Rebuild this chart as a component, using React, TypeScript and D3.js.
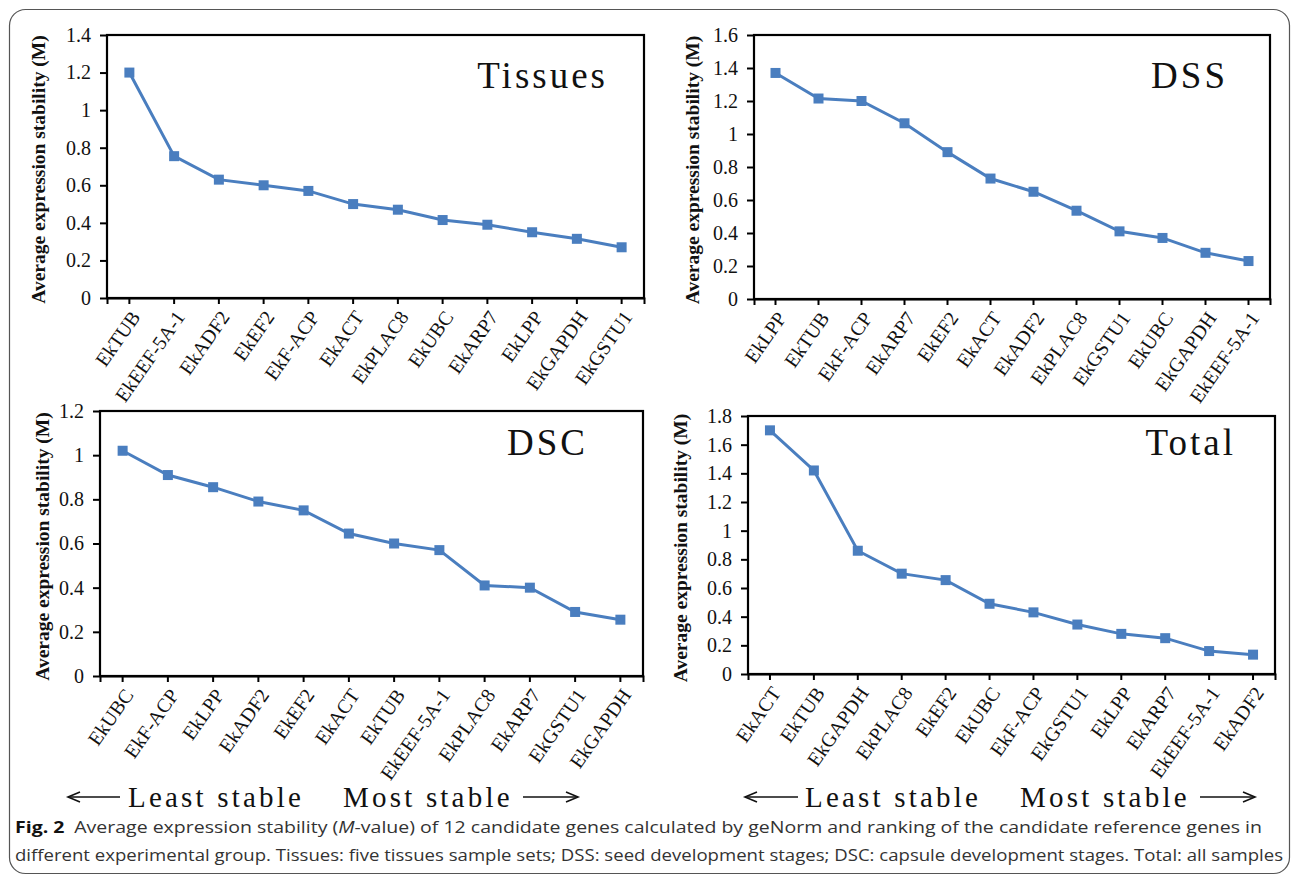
import { useEffect, useRef } from 'react';
import * as d3 from 'd3';

// gene order and geNorm M values, one pair per panel
const tissuesGenes = ['EkTUB', 'EkEEF-5A-1', 'EkADF2', 'EkEF2', 'EkF-ACP', 'EkACT', 'EkPLAC8', 'EkUBC', 'EkARP7', 'EkLPP', 'EkGAPDH', 'EkGSTU1'];
const tissuesM = [1.2, 0.755, 0.63, 0.6, 0.57, 0.5, 0.47, 0.415, 0.39, 0.35, 0.315, 0.27];

const dssGenes = ['EkLPP', 'EkTUB', 'EkF-ACP', 'EkARP7', 'EkEF2', 'EkACT', 'EkADF2', 'EkPLAC8', 'EkGSTU1', 'EkUBC', 'EkGAPDH', 'EkEEF-5A-1'];
const dssM = [1.37, 1.215, 1.2, 1.065, 0.89, 0.73, 0.65, 0.535, 0.41, 0.37, 0.28, 0.23];

const dscGenes = ['EkUBC', 'EkF-ACP', 'EkLPP', 'EkADF2', 'EkEF2', 'EkACT', 'EkTUB', 'EkEEF-5A-1', 'EkPLAC8', 'EkARP7', 'EkGSTU1', 'EkGAPDH'];
const dscM = [1.02, 0.91, 0.855, 0.79, 0.75, 0.645, 0.6, 0.57, 0.41, 0.4, 0.29, 0.255];

const totalGenes = ['EkACT', 'EkTUB', 'EkGAPDH', 'EkPLAC8', 'EkEF2', 'EkUBC', 'EkF-ACP', 'EkGSTU1', 'EkLPP', 'EkARP7', 'EkEEF-5A-1', 'EkADF2'];
const totalM = [1.7, 1.42, 0.86, 0.7, 0.655, 0.49, 0.43, 0.345, 0.28, 0.25, 0.16, 0.135];

const yMaxes = [1.4, 1.6, 1.2, 1.8];
const panelTitles = ['Tissues', 'DSS', 'DSC', 'Total'];

const W = 1295, H = 877;
const BLUE = '#4A7EBF';
const SERIF = '"Liberation Serif", "Times New Roman", serif';
const SANS = '"Open Sans", "Noto Sans", sans-serif';

// plot-area boxes and label anchors
const layout = [
  { left: 107, right: 644, top: 35, bottom: 298, titleX: 608, titleY: 88, yTitleX: 38 },
  { left: 754, right: 1270, top: 35, bottom: 299, titleX: 1228, titleY: 88, yTitleX: 692 },
  { left: 100, right: 643, top: 411, bottom: 676, titleX: 588, titleY: 455, yTitleX: 42 },
  { left: 748, right: 1275, top: 416, bottom: 674, titleX: 1236, titleY: 455, yTitleX: 680 },
];

export default function App() {
  const svgRef = useRef<SVGSVGElement>(null);

  useEffect(() => {
    const svg = d3.select(svgRef.current);
    svg.selectAll('*').remove();

    svg.append('rect')
      .attr('x', 9.5).attr('y', 9.5).attr('width', 1280).attr('height', 864)
      .attr('rx', 16).attr('fill', '#fff').attr('stroke', '#555').attr('stroke-width', 1.2);

    const series = [
      { genes: tissuesGenes, values: tissuesM },
      { genes: dssGenes, values: dssM },
      { genes: dscGenes, values: dscM },
      { genes: totalGenes, values: totalM },
    ];

    series.forEach((s, i) => {
      const L = layout[i];
      const g = svg.append('g');
      const x = d3.scaleBand().domain(s.genes).range([L.left, L.right]).padding(0);
      const y = d3.scaleLinear().domain([0, yMaxes[i]]).range([L.bottom, L.top]);
      const yTicks = y.ticks(Math.round(yMaxes[i] / 0.2));

      // y axis
      const ya = g.append('g').attr('transform', `translate(${L.left},0)`)
        .call(d3.axisLeft(y).tickValues(yTicks).tickSize(7).tickSizeOuter(0).tickPadding(9).tickFormat(d3.format('~g')));
      ya.select('.domain').remove();
      ya.selectAll('line').attr('stroke', '#000').attr('stroke-width', 2);
      ya.selectAll('text').attr('font-family', SERIF).attr('font-size', 20).attr('fill', '#111');

      // x axis
      const xa = g.append('g').attr('transform', `translate(0,${L.bottom})`)
        .call(d3.axisBottom(x).tickSize(6).tickSizeOuter(6));
      xa.select('.domain').attr('stroke', '#000').attr('stroke-width', 2);
      xa.selectAll('line').attr('stroke', '#000').attr('stroke-width', 2);
      xa.selectAll('text')
        .attr('x', 0).attr('y', 0).attr('dy', '0.35em')
        .attr('transform', 'translate(6,15) rotate(-55)')
        .attr('text-anchor', 'end')
        .attr('font-family', SERIF).attr('font-size', 20).attr('fill', '#111');

      // plot frame
      g.append('rect')
        .attr('x', L.left).attr('y', L.top)
        .attr('width', L.right - L.left).attr('height', L.bottom - L.top)
        .attr('fill', 'none').attr('stroke', '#000').attr('stroke-width', 2.2);

      const cx = (d: string) => (x(d) ?? 0) + x.bandwidth() / 2;
      const line = d3.line<number>().x((_, j) => cx(s.genes[j])).y(v => y(v));
      g.append('path').datum(s.values)
        .attr('d', line).attr('fill', 'none').attr('stroke', BLUE).attr('stroke-width', 3);

      g.selectAll('.mk').data(s.values).join('rect').attr('class', 'mk')
        .attr('x', (_, j) => cx(s.genes[j]) - 5).attr('y', v => y(v) - 5)
        .attr('width', 10).attr('height', 10).attr('fill', BLUE);

      // panel title
      g.append('text')
        .attr('x', L.titleX).attr('y', L.titleY).attr('text-anchor', 'end')
        .attr('font-family', SERIF).attr('font-size', 37).attr('letter-spacing', 3)
        .attr('fill', '#111').text(panelTitles[i]);

      // y title
      g.append('text')
        .attr('transform', `translate(${L.yTitleX},${(L.top + L.bottom) / 2 + 3}) rotate(-90)`)
        .attr('text-anchor', 'middle').attr('dy', '0.35em')
        .attr('font-family', SERIF).attr('font-size', 19.5).attr('font-weight', 700)
        .attr('fill', '#111').text('Average expression stability (M)');
    });

    // stability arrows
    const arrowRows = [
      { la: [68, 120], least: 128, most: 343, ra: [523, 578] },
      { la: [745, 798], least: 805, most: 1020, ra: [1200, 1255] },
    ];
    const ay = 797;
    arrowRows.forEach(r => {
      const a = svg.append('g').attr('stroke', '#111').attr('stroke-width', 1.6).attr('fill', 'none');
      a.append('line').attr('x1', r.la[0]).attr('x2', r.la[1]).attr('y1', ay).attr('y2', ay);
      a.append('path').attr('d', `M${r.la[0] + 12},${ay - 5}L${r.la[0]},${ay}L${r.la[0] + 12},${ay + 5}`);
      a.append('line').attr('x1', r.ra[0]).attr('x2', r.ra[1]).attr('y1', ay).attr('y2', ay);
      a.append('path').attr('d', `M${r.ra[1] - 12},${ay - 5}L${r.ra[1]},${ay}L${r.ra[1] - 12},${ay + 5}`);
      [['Least stable', r.least], ['Most stable', r.most]].forEach(([t, px]) => {
        svg.append('text').attr('x', px as number).attr('y', 807)
          .attr('font-family', SERIF).attr('font-size', 29).attr('letter-spacing', 3.2)
          .attr('fill', '#111').text(t as string);
      });
    });

    // caption
    const c1 = svg.append('text').attr('x', 15).attr('y', 833)
      .attr('font-family', SANS).attr('font-size', 16.5).attr('fill', '#333')
      .attr('textLength', 1247).attr('lengthAdjust', 'spacingAndGlyphs');
    c1.append('tspan').attr('font-weight', 700).attr('fill', '#111').text('Fig. 2');
    c1.append('tspan').text('\u2002Average expression stability (');
    c1.append('tspan').attr('font-style', 'italic').text('M');
    c1.append('tspan').text('-value) of 12 candidate genes calculated by geNorm and ranking of the candidate reference genes in');

    svg.append('text').attr('x', 15).attr('y', 861)
      .attr('font-family', SANS).attr('font-size', 16.5).attr('fill', '#333')
      .attr('textLength', 1268).attr('lengthAdjust', 'spacingAndGlyphs')
      .text('different experimental group. Tissues: five tissues sample sets; DSS: seed development stages; DSC: capsule development stages. Total: all samples');
  }, []);

  return (
    <div style={{ position: 'absolute', left: 0, top: 0, width: W, height: H, background: '#fff' }}>
      <svg ref={svgRef} width={W} height={H} />
    </div>
  );
}
